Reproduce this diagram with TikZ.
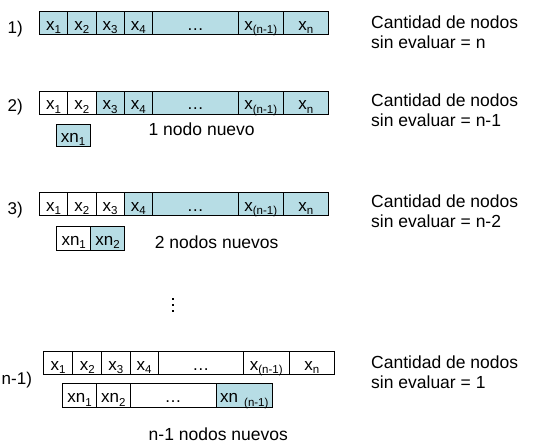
\documentclass[tikz,border=0pt]{standalone}
\usepackage{fontspec}
\setmainfont{Liberation Sans}
\definecolor{cellblue}{RGB}{183,221,229}
\newcommand\sbs[1]{\raisebox{-3.5pt}{\fontsize{11.5}{12}\selectfont #1}}
% \cellbox{name}{x1}{x2}{y1}{y2}{fill}{text}
\newcommand\cellbox[7]{%
  \pgfmathsetmacro\mycw{#3-#2}\pgfmathsetmacro\mych{#5-#4}%
  \pgfmathsetmacro\mycx{(#2+#3)/2}\pgfmathsetmacro\mycy{(#4+#5)/2}%
  \node[cellsty,fill=#6,minimum width=\mycw pt,minimum height=\mych pt] (#1) at (\mycx,\mycy) {#7};}
\begin{document}
\begin{tikzpicture}[x=1pt,y=-1pt,
  cellsty/.style={draw=black,line width=0.8pt,inner sep=0pt,text height=16pt,text depth=2pt,font=\fontsize{17}{19}\selectfont},
  lbl/.style={font=\fontsize{17}{19}\selectfont,inner sep=0pt,anchor=base west},
  desc/.style={font=\fontsize{17.5}{20.5}\selectfont,inner sep=0pt,anchor=base west},
  note/.style={font=\fontsize{17.5}{20.5}\selectfont,inner sep=0pt,anchor=base}]
\useasboundingbox (0,0) rectangle (556,447);
\fill[white] (0,0) rectangle (556,447);

% ---- row 1
\node[lbl] (l1) at (7.5,33.5) {1)};
\cellbox{a1}{39.3}{67.7}{11.7}{34.3}{cellblue}{x\sbs{1}}
\cellbox{a2}{67.7}{96}{11.7}{34.3}{cellblue}{x\sbs{2}}
\cellbox{a3}{96}{124.3}{11.7}{34.3}{cellblue}{x\sbs{3}}
\cellbox{a4}{124.3}{152.3}{11.7}{34.3}{cellblue}{x\sbs{4}}
\cellbox{a5}{152.3}{238.3}{11.7}{34.3}{cellblue}{\ldots}
\cellbox{a6}{238.3}{283.3}{11.7}{34.3}{cellblue}{x\sbs{(n-1)}}
\cellbox{a7}{283.3}{328.3}{11.7}{34.3}{cellblue}{x\sbs{n}}
\node[desc] (d1) at (371,28.3) {\begin{tabular}[t]{@{}l@{}}Cantidad de nodos\\sin evaluar = n\end{tabular}};

% ---- row 2
\node[lbl] (l2) at (7.5,111.5) {2)};
\cellbox{b1}{39.3}{67.7}{91}{114.3}{white}{x\sbs{1}}
\cellbox{b2}{67.7}{96}{91}{114.3}{white}{x\sbs{2}}
\cellbox{b3}{96}{124.3}{91}{114.3}{cellblue}{x\sbs{3}}
\cellbox{b4}{124.3}{152.3}{91}{114.3}{cellblue}{x\sbs{4}}
\cellbox{b5}{152.3}{238.3}{91}{114.3}{cellblue}{\ldots}
\cellbox{b6}{238.3}{283.3}{91}{114.3}{cellblue}{x\sbs{(n-1)}}
\cellbox{b7}{283.3}{328.3}{91}{114.3}{cellblue}{x\sbs{n}}
\cellbox{bn1}{56}{90}{124}{146.7}{cellblue}{xn\sbs{1}}
\node[note] (t2) at (201.7,135) {1 nodo nuevo};
\node[desc] (d2) at (371,106) {\begin{tabular}[t]{@{}l@{}}Cantidad de nodos\\sin evaluar = n-1\end{tabular}};

% ---- row 3
\node[lbl] (l3) at (7.5,214) {3)};
\cellbox{c1}{39.3}{67.7}{192.3}{215.7}{white}{x\sbs{1}}
\cellbox{c2}{67.7}{96}{192.3}{215.7}{white}{x\sbs{2}}
\cellbox{c3}{96}{124.3}{192.3}{215.7}{white}{x\sbs{3}}
\cellbox{c4}{124.3}{152.3}{192.3}{215.7}{cellblue}{x\sbs{4}}
\cellbox{c5}{152.3}{238.3}{192.3}{215.7}{cellblue}{\ldots}
\cellbox{c6}{238.3}{283.3}{192.3}{215.7}{cellblue}{x\sbs{(n-1)}}
\cellbox{c7}{283.3}{328.3}{192.3}{215.7}{cellblue}{x\sbs{n}}
\cellbox{cn1}{56.7}{90.7}{226.7}{250}{white}{xn\sbs{1}}
\cellbox{cn2}{90.7}{124.3}{226.7}{250}{cellblue}{xn\sbs{2}}
\node[note] (t3) at (216.7,248.3) {2 nodos nuevos};
\node[desc] (d3) at (371,207.3) {\begin{tabular}[t]{@{}l@{}}Cantidad de nodos\\sin evaluar = n-2\end{tabular}};

% ---- vertical dots
\foreach \yy in {299,305,311} \fill (171.7,\yy-1) rectangle (173.7,\yy+1);

% ---- row n-1
\node[lbl] (l4) at (1.5,384) {n-1)};
\cellbox{e1}{43.3}{72.7}{351.7}{374.3}{white}{x\sbs{1}}
\cellbox{e2}{72.7}{101.7}{351.7}{374.3}{white}{x\sbs{2}}
\cellbox{e3}{101.7}{130}{351.7}{374.3}{white}{x\sbs{3}}
\cellbox{e4}{130}{158.3}{351.7}{374.3}{white}{x\sbs{4}}
\cellbox{e5}{158.3}{243.3}{351.7}{374.3}{white}{\ldots}
\cellbox{e6}{243.3}{289.3}{351.7}{374.3}{white}{x\sbs{(n-1)}}
\cellbox{e7}{289.3}{334.3}{351.7}{374.3}{white}{x\sbs{n}}
\cellbox{en1}{62.3}{96.7}{383.3}{407.7}{white}{xn\sbs{1}}
\cellbox{en2}{96.7}{130}{383.3}{407.7}{white}{xn\sbs{2}}
\cellbox{en3}{130}{216}{383.3}{407.7}{white}{\ldots}
\cellbox{en4}{216}{272.7}{383.3}{407.7}{cellblue}{xn\hspace{6pt}\sbs{(n-1)}}
\node[note] (t4) at (218.3,440) {n-1 nodos nuevos};
\node[desc] (d4) at (371,368.3) {\begin{tabular}[t]{@{}l@{}}Cantidad de nodos\\sin evaluar = 1\end{tabular}};
\end{tikzpicture}
\end{document}
